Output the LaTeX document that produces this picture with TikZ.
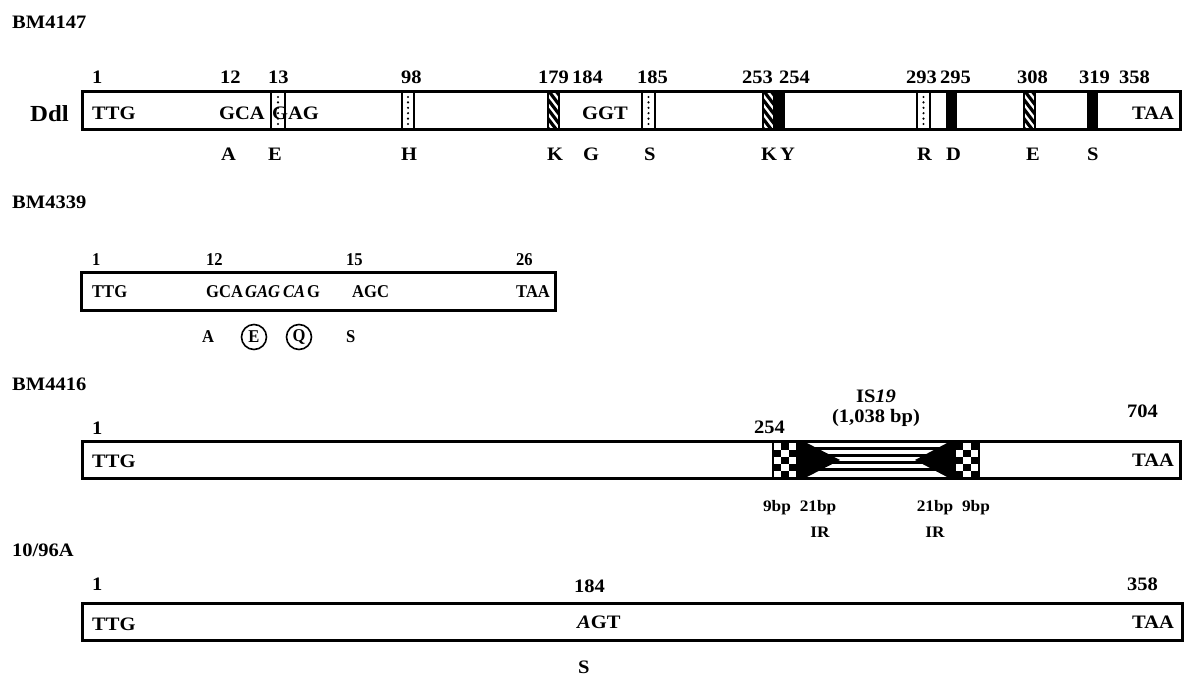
\documentclass[tikz,border=0pt]{standalone}
\usepackage{fontspec}
\setmainfont{Liberation Serif}[FakeStretch=1.08]
\newfontfamily\narrowserif{Liberation Serif}[FakeStretch=0.92]
\tikzset{
  t/.style={font=\fontsize{19}{19}\selectfont\bfseries, anchor=base west, inner sep=0pt},
  ts/.style={font=\narrowserif\fontsize{18}{18}\selectfont\bfseries, anchor=base west, inner sep=0pt},
  tsc/.style={font=\narrowserif\fontsize{18}{18}\selectfont\bfseries, inner sep=0pt},
  tc/.style={font=\fontsize{16}{16}\selectfont\bfseries, anchor=base, inner sep=0pt},
  big/.style={font=\fontsize{23}{23}\selectfont\bfseries, anchor=base west, inner sep=0pt},
  barline/.style={draw=black, line width=3pt},
  markline/.style={line width=1.3pt},
}
\newcommand\dotbox[4]{%
  \filldraw[fill=white,markline] (#1,#3) rectangle (#2,#4);
  \foreach \yy in {0,...,5} \fill ({(#1+#2)/2},{#3+5+\yy*(#4-#3-10)/5}) circle (1.2pt);}
\newcommand\hatchbox[4]{%
  \fill[white] (#1,#3) rectangle (#2,#4);
  \begin{scope}\clip (#1,#3) rectangle (#2,#4);
    \foreach \k in {-3,...,5}{\draw[line width=3.2pt] (#1-2,#3+\k*9.5-14) -- ++(16,21);}
  \end{scope}
  \draw[markline] (#1,#3) rectangle (#2,#4);}
\newcommand\blackbox[4]{\fill (#1,#3) rectangle (#2,#4);}
\begin{document}
\begin{tikzpicture}[x=1pt,y=-1pt]
\fill[white] (0,0) rectangle (1186,675);
\useasboundingbox (0,0) rectangle (1186,675);

% ---------------- BM4147 ----------------
\node[t] (lab1) at (12,28) {BM4147};
\fill[white] (82.5,91.5) rectangle (1180.5,129.5);
\dotbox{271}{285}{92}{129}
\dotbox{402}{414}{92}{129}
\hatchbox{548}{559}{92}{129}
\dotbox{642}{655}{92}{129}
\hatchbox{763}{774}{92}{129}
\blackbox{774}{785}{92}{129}
\dotbox{917}{930}{92}{129}
\blackbox{946}{957}{92}{129}
\hatchbox{1024}{1035}{92}{129}
\blackbox{1087}{1098}{92}{129}
\draw[barline] (82.5,91.5) rectangle (1180.5,129.5);
\node[big] (ddl) at (30,121) {Ddl};
\foreach \x/\s [count=\i] in {92/1,220/12,268/13,401/98,538/179,572/184,637/185,742/253,779/254,906/293,940/295,1017/308,1079/319,1119/358}
  \node[t] (r1n\i) at (\x,83) {\s};
\node[t] (r1c1) at (92,119) {TTG};
\node[t] (r1c2) at (219,119) {GCA};
\node[t] (r1c3) at (272,119) {GAG};
\node[t] (r1c4) at (582,119) {GGT};
\node[t] (r1c5) at (1132,119) {TAA};
\foreach \x/\s [count=\i] in {221/A,268/E,401/H,547/K,583/G,644/S,761/K,780/Y,917/R,946/D,1026/E,1087/S}
  \node[t] (r1a\i) at (\x,160) {\s};

% ---------------- BM4339 ----------------
\node[t] (lab2) at (12,208) {BM4339};
\draw[barline] (81.5,272.5) rectangle (555.5,310.5);
\node[ts] (r2n1) at (92,265) {1};
\node[ts] (r2n2) at (206,265) {12};
\node[ts] (r2n3) at (346,265) {15};
\node[ts] (r2n4) at (516,265) {26};
\node[ts] (r2c1) at (92,297) {TTG};
\node[ts] (r2c2) at (206,297) {GCA};
\node[ts] (r2c3) at (245,297) {\itshape GAG};
\node[ts] (r2c4) at (283,297) {\itshape CA};
\node[ts] (r2c5) at (307,297) {G};
\node[ts] (r2c6) at (352,297) {AGC};
\node[ts] (r2c7) at (516,297) {TAA};
\node[ts] (r2a1) at (202,342) {A};
\node[tsc] (r2a2) at (254,337) {E};
\node[tsc] (r2a3) at (299,337) {Q};
\draw[line width=1.6pt] (r2a2.center) circle (12.5pt);
\draw[line width=1.6pt] (r2a3.center) circle (12.5pt);
\node[ts] (r2a4) at (346,342) {S};

% ---------------- BM4416 ----------------
\node[t] (lab3) at (12,390) {BM4416};
\fill[white] (82.5,441.5) rectangle (1180.5,478.5);
% left checker
\fill (772,441) rectangle (798,479);
\foreach \i in {0,1,2} \foreach \j in {0,...,4} {
  \pgfmathtruncatemacro\chk{mod(\i+\j,2)}
  \ifnum\chk=0
    \fill[white] ({774+\i*7.33},{443+\j*7}) rectangle ++(7.33,7);
  \fi}
% right checker
\fill (954,441) rectangle (980,479);
\foreach \i in {0,1,2} \foreach \j in {0,...,4} {
  \pgfmathtruncatemacro\chk{mod(\i+\j+1,2)}
  \ifnum\chk=0
    \fill[white] ({956+\i*7.33},{443+\j*7}) rectangle ++(7.33,7);
  \fi}
% IS19 body
\foreach \yy in {448.5,455.5,462.5,469.5}
  \draw[line width=2.4pt] (798,\yy) -- (954,\yy);
\fill (798,442) -- (805,442) -- (840,460) -- (805,478) -- (798,478) -- cycle;
\fill (954,442) -- (949,442) -- (915,460) -- (949,478) -- (954,478) -- cycle;
\draw[barline] (82.5,441.5) rectangle (1180.5,478.5);
\node[t] (r3n1) at (92,434) {1};
\node[t] (r3n2) at (754,433) {254};
\node[t] (r3n3) at (1127,417) {704};
\node[font=\fontsize{19}{19}\selectfont\bfseries, anchor=base, inner sep=0pt] (is) at (876,402) {IS\textit{19}};
\node[font=\fontsize{19}{19}\selectfont\bfseries, anchor=base, inner sep=0pt] (isbp) at (876,422) {(1,038 bp)};
\node[t] (r3c1) at (92,467) {TTG};
\node[t] (r3c2) at (1132,466) {TAA};
\node[tc] (bp1) at (777,511) {9bp};
\node[tc] (bp2) at (818,511) {21bp};
\node[tc] (ir1) at (820,537) {IR};
\node[tc] (bp3) at (935,511) {21bp};
\node[tc] (bp4) at (976,511) {9bp};
\node[tc] (ir2) at (935,537) {IR};

% ---------------- 10/96A ----------------
\node[t] (lab4) at (12,556) {10/96A};
\draw[barline] (82.5,603.5) rectangle (1182.5,640.5);
\node[t] (r4n1) at (92,590) {1};
\node[t] (r4n2) at (574,592) {184};
\node[t] (r4n3) at (1127,590) {358};
\node[t] (r4c1) at (92,630) {TTG};
\node[t] (r4c2) at (577,628) {\textit{A}GT};
\node[t] (r4c3) at (1132,628) {TAA};
\node[t] (r4a1) at (578,673) {S};
\end{tikzpicture}
\end{document}
